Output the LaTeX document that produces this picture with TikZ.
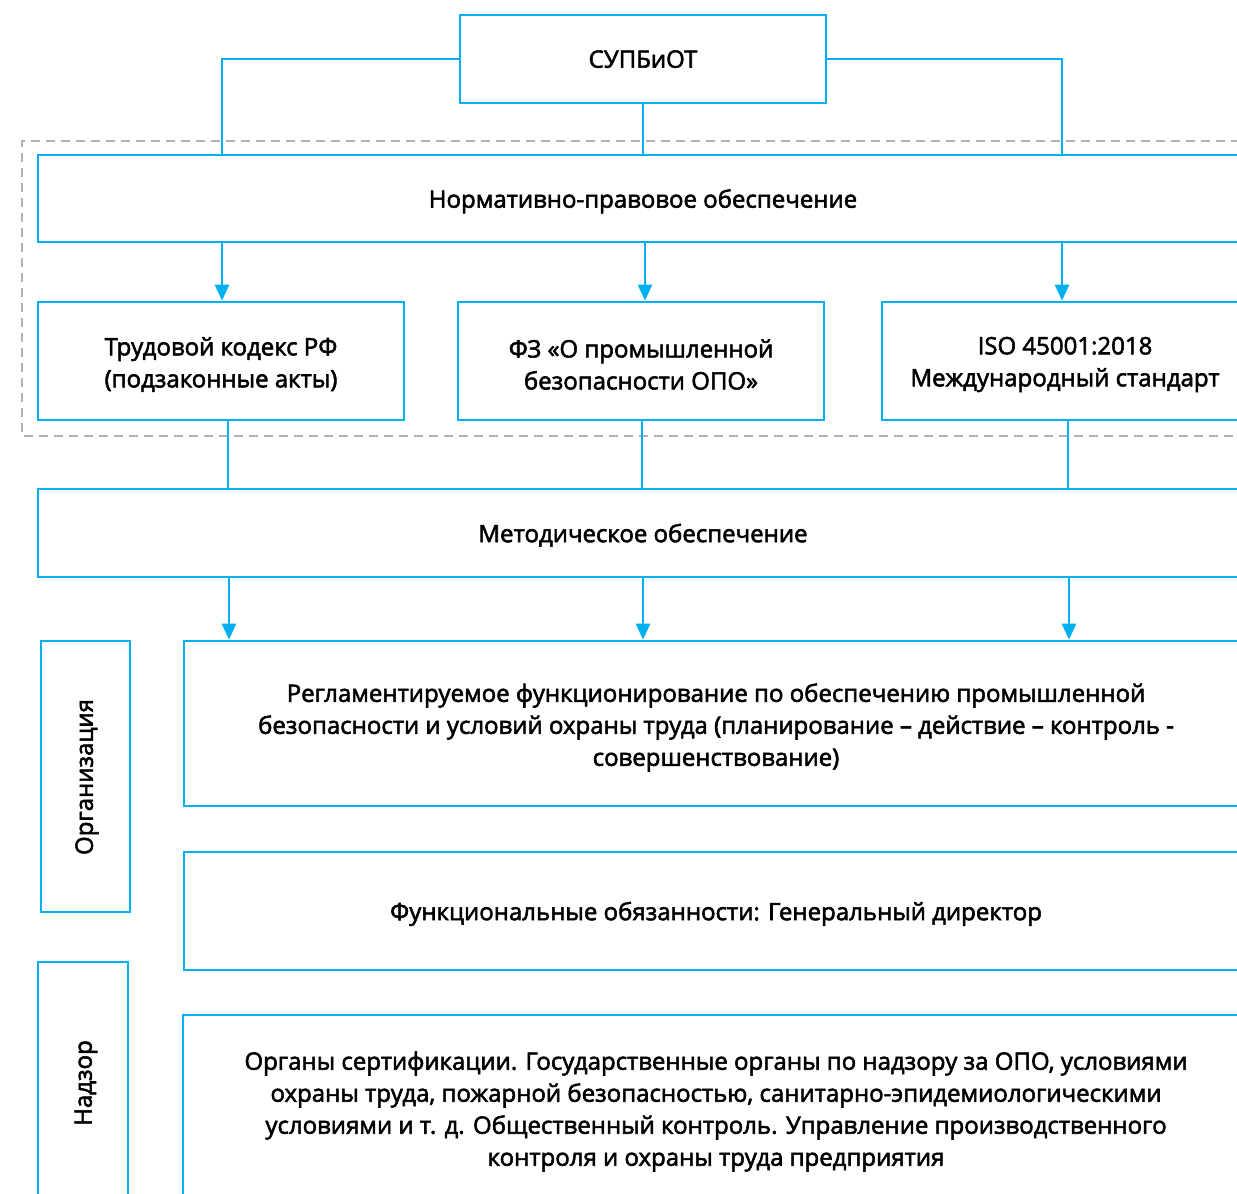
\documentclass[tikz,border=0pt]{standalone}
\usepackage{fontspec}
\setmainfont{Open Sans}
\usetikzlibrary{arrows.meta}
\definecolor{cyanline}{RGB}{0,176,240}
\definecolor{dashgray}{RGB}{178,178,178}
\newcommand{\medweight}{\special{pdf:literal direct 2 Tr 0.55 w 0 G}}
\tikzset{
  txt/.style={font=\fontsize{24}{32}\selectfont\medweight, align=center},
  box/.style={txt, draw=cyanline, line width=2.6pt, fill=white, inner sep=0pt, text depth=0pt},
  conn/.style={draw=cyanline, line width=2.6pt},
  arr/.style={conn, -{Triangle[length=16pt,width=14pt]}},
}
\begin{document}
\begin{tikzpicture}[x=1pt,y=-1pt]
\useasboundingbox (0,0) rectangle (1237,1194);
\clip (0,0) rectangle (1237,1194);
\fill[white] (0,0) rectangle (1237,1194);
% dashed group
\draw[dashgray, line width=2.2pt, dash pattern=on 9pt off 6pt] (1270,141) -- (22,141) -- (22,436) -- (1270,436);
% nodes
\node[box, minimum width=366pt, minimum height=88pt] (top) at (643,59) {СУПБиОТ};
\node[box, minimum width=1210pt, minimum height=87pt] (npo) at (643,198.5) {Нормативно-правовое обеспечение};
\node[box, minimum width=366pt, minimum height=118pt] (b1) at (221,361) {};
\node[txt, yshift=-3.5pt] (b1t) at (b1.center) {Трудовой кодекс РФ\\(подзаконные акты)};
\node[box, minimum width=366pt, minimum height=118pt] (b2) at (641,361) {};
\node[txt, yshift=-3.5pt] (b2t) at (b2.center) {ФЗ «О промышленной\\безопасности ОПО»};
\node[box, minimum width=366pt, minimum height=118pt] (b3) at (1065,361) {};
\node[txt, yshift=-3.5pt] (b3t) at (b3.center) {ISO 45001:2018\\Международный стандарт};
\node[box, minimum width=1210pt, minimum height=88pt] (mo) at (643,533) {Методическое обеспечение};
\node[box, minimum width=1064pt, minimum height=165pt] (reg) at (716,723.5) {};
\node[txt] (regtxt) at (716,727.5) {Регламентируемое функционирование по обеспечению промышленной\\безопасности и условий охраны труда (планирование – действие – контроль -\\совершенствование)};
\node[box, minimum width=1064pt, minimum height=118pt] (fun) at (716,911) {Функциональные обязанности: Генеральный директор};
\node[box, minimum width=1066pt, minimum height=290pt] (org2) at (716,1160) {};
\node[txt] (orgtxt) at (716,1111.5) {Органы сертификации. Государственные органы по надзору за ОПО, условиями\\охраны труда, пожарной безопасностью, санитарно-эпидемиологическими\\условиями и т. д. Общественный контроль. Управление производственного\\контроля и охраны труда предприятия};
\node[box, minimum width=89pt, minimum height=271pt] (org) at (85.5,776.5) {};
\node[txt, rotate=90] (orgl) at (87,777) {Организация};
\node[box, minimum width=90pt, minimum height=300pt] (nad) at (83,1112) {};
\node[txt, rotate=90] (nadl) at (86,1083) {Надзор};
% connectors
\draw[conn] (top.west) -| (npo.north -| 222,0);
\draw[conn] (top.east) -| (npo.north -| 1062,0);
\draw[conn] (top.south) -- (npo.north -| top.south);
\draw[arr] (npo.south -| 222,0) -- (b1.north -| 222,0);
\draw[arr] (npo.south -| 645,0) -- (b2.north -| 645,0);
\draw[arr] (npo.south -| 1062,0) -- (b3.north -| 1062,0);
\draw[conn] (b1.south -| 228,0) -- (mo.north -| 228,0);
\draw[conn] (b2.south -| 642,0) -- (mo.north -| 642,0);
\draw[conn] (b3.south -| 1068,0) -- (mo.north -| 1068,0);
\draw[arr] (mo.south -| 229,0) -- (reg.north -| 229,0);
\draw[arr] (mo.south -| 643,0) -- (reg.north -| 643,0);
\draw[arr] (mo.south -| 1069,0) -- (reg.north -| 1069,0);
\end{tikzpicture}
\end{document}
